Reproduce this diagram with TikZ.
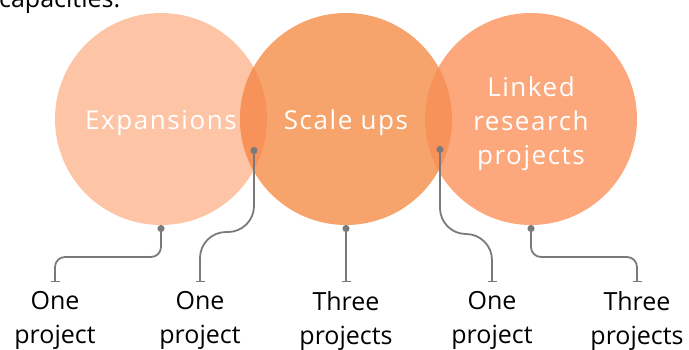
\documentclass[tikz,border=0pt]{standalone}
\usepackage{fontspec}
\setmainfont{Open Sans}
\usetikzlibrary{arrows.meta}
\definecolor{expc}{HTML}{FDC4A6}
\definecolor{sclc}{HTML}{F6A46B}
\definecolor{lnkc}{HTML}{FCA77C}
\definecolor{ovlc}{HTML}{F7935A}
\definecolor{linc}{HTML}{7A7A7A}
\begin{document}
\begin{tikzpicture}
[x=1pt, y=-1pt,
 blob/.style={text=white, align=center, font={\fontsize{26}{34}\selectfont\addfontfeatures{LetterSpace=6}}},
 count/.style={align=center, inner sep=0pt, anchor=north, font={\fontsize{25}{34}\selectfont}},
 link/.style={draw=linc, line width=1.8pt, {Circle[length=7pt]}-{Bar[width=9pt,line width=1.3pt]}, shorten >=9pt}]
\clip (0,0) rectangle (689,349);
\node[anchor=base west, inner sep=0pt, font={\fontsize{25}{34}\selectfont}] (top) at (-1,7) {capacities.};
\fill[expc] (161,119) circle (106);
\fill[sclc] (346,119) circle (106);
\fill[lnkc] (531,119) circle (106);
\begin{scope}
  \clip (161,119) circle (106);
  \fill[ovlc] (346,119) circle (106);
\end{scope}
\begin{scope}
  \clip (346,119) circle (106);
  \fill[ovlc] (531,119) circle (106);
\end{scope}
\node[blob] (exp) at (161,123) {Expansions};
\node[blob] (scl) at (346,123) {Scale ups};
\node[blob] (lnk) at (531,124) {Linked\\research\\projects};
\coordinate (d1) at (161,225);
\coordinate (d2) at (254,147);
\coordinate (d3) at (346,225);
\coordinate (d4) at (440,146);
\coordinate (d5) at (531,225);
\node[count] (c1) at (55,291) {One\\project};
\node[count] (c2) at (200,291) {One\\project};
\node[count] (c3) at (346,291) {Three\\projects};
\node[count] (c4) at (492,291) {One\\project};
\node[count] (c5) at (637,291) {Three\\projects};
\draw[link, rounded corners=10pt] (d1) -- (161,257) -| (c1.north);
\draw[link, rounded corners=26pt] (d2) -- (254,232) -| (c2.north);
\draw[link] (d3) -- (c3.north);
\draw[link, rounded corners=26pt] (d4) -- (440,234) -| (c4.north);
\draw[link, rounded corners=10pt] (d5) -- (531,257) -| (c5.north);
\end{tikzpicture}
\end{document}
